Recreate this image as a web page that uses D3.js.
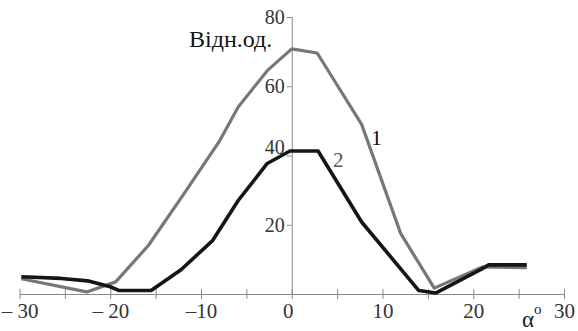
<!DOCTYPE html>
<html>
<meta charset="utf-8">
<script src="https://d3js.org/d3.v7.min.js"></script>
<style>
  body { margin: 0; background: #fff; }
</style>
<body>
<div id="chart"></div>
<script>
// curve 1 (gray) and curve 2 (black), angle in degrees vs relative units
var angles1 = [-29.8, -22.6, -19.4, -15.8, -12, -8, -5.9, -2.7, 0, 2.8, 7.7, 12, 15.7, 21, 25.9];
var values1 = [4.4, 0.6, 3.5, 14, 28.5, 44, 54, 64.5, 70.8, 69.6, 49, 17.5, 1.7, 7.8, 7.6];
var angles2 = [-29.8, -25.4, -22.5, -20, -19, -15.5, -12.2, -8.7, -5.9, -2.7, -0.2, 2.9, 7.7, 14, 15.9, 20.9, 21.7, 25.9];
var values2 = [5, 4.5, 3.8, 2.1, 1, 1, 7, 15.5, 27, 37.7, 41.3, 41.3, 20.8, 1, 0.3, 7.2, 8.4, 8.4];
var xTicks = [-30, -25, -20, -15, -10, -5, 0, 5, 10, 15, 20, 25, 30];
var xLabels = ["– 30", "", "– 20", "", "–10", "", "0", "", "10", "", "20", "", "30"];
var yTicks = [20, 40, 60, 80];
var yLabels = ["20", "40", "60", "80"];

var serif = "'Liberation Serif', 'DejaVu Serif', serif";
var width = 578, height = 331;
var svg = d3.select("#chart").append("svg")
  .attr("width", width)
  .attr("height", height)
  .style("font-family", serif);

var x = d3.scaleLinear().domain([-30, 30]).range([19.5, 564]);
var y = d3.scaleLinear().domain([0, 80]).range([294, 17]);

// x axis
var xAxis = svg.append("g")
  .attr("transform", "translate(0," + y(0) + ")")
  .call(d3.axisBottom(x).tickValues(xTicks).tickSize(0).tickFormat(function(d, i) { return xLabels[i]; }));
xAxis.attr("font-family", null);
xAxis.select(".domain").attr("stroke", "#888");
xAxis.selectAll(".tick line").remove();
xAxis.selectAll(".tick").append("line")
  .attr("y1", -5).attr("y2", 5)
  .attr("stroke", "#888");
xAxis.selectAll(".tick text")
  .attr("y", 9)
  .attr("dy", "0.71em")
  .style("font-family", serif)
  .style("font-size", "21px")
  .style("fill", "#333");
xAxis.selectAll(".tick").filter(function(d) { return d === 0; }).select("text").attr("dx", "-4");

// y axis
var yAxis = svg.append("g")
  .attr("transform", "translate(" + x(0) + ",0)")
  .call(d3.axisLeft(y).tickValues(yTicks).tickSize(5).tickFormat(function(d, i) { return yLabels[i]; }));
yAxis.attr("font-family", null);
yAxis.select(".domain").attr("stroke", "#888");
yAxis.selectAll(".tick line").attr("stroke", "#888");
yAxis.selectAll(".tick text")
  .attr("x", -7)
  .style("font-family", serif)
  .style("font-size", "20px")
  .style("fill", "#333");
yAxis.selectAll(".tick").filter(function(d) { return d === 40; }).select("text").attr("dy", "-0.1em");

var line = d3.line()
  .x(function(d) { return x(d[0]); })
  .y(function(d) { return y(d[1]); });

svg.append("path")
  .datum(d3.zip(angles1, values1))
  .attr("d", line)
  .attr("fill", "none")
  .attr("stroke", "#777")
  .attr("stroke-width", 3.2)
  .attr("stroke-linejoin", "round");

svg.append("path")
  .datum(d3.zip(angles2, values2))
  .attr("d", line)
  .attr("fill", "none")
  .attr("stroke", "#151515")
  .attr("stroke-width", 3.6)
  .attr("stroke-linejoin", "round");

// labels
svg.append("text")
  .attr("x", 189).attr("y", 47)
  .style("font-family", serif)
  .style("font-size", "24px")
  .style("fill", "#111")
  .text("Відн.од.");

svg.append("text")
  .attr("x", 371).attr("y", 145)
  .style("font-family", serif)
  .style("font-size", "22px")
  .style("fill", "#111")
  .text("1");

svg.append("text")
  .attr("x", 333).attr("y", 167)
  .style("font-family", serif)
  .style("font-size", "21px")
  .style("fill", "#555")
  .text("2");

var alpha = svg.append("text")
  .attr("x", 522).attr("y", 327)
  .style("font-family", serif)
  .style("font-size", "23px")
  .style("fill", "#222");
alpha.append("tspan").text("α");
alpha.append("tspan").attr("dy", "-13").style("font-size", "15px").text("o");
</script>
</body>
</html>
